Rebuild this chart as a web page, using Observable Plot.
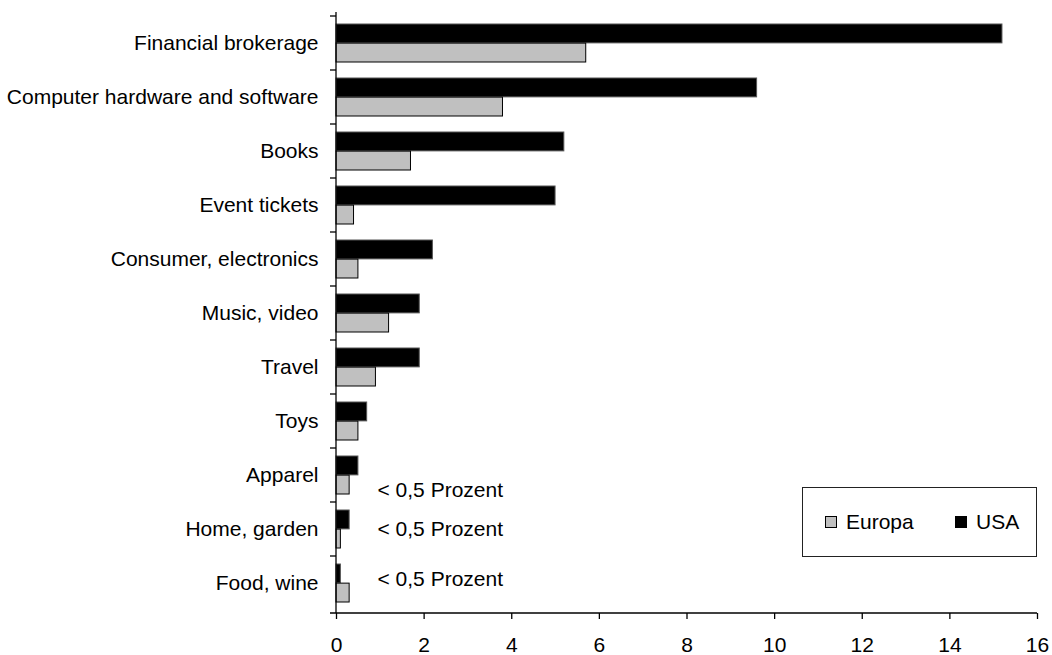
<!DOCTYPE html>
<html>
<head>
<meta charset="utf-8">
<script src="https://cdn.jsdelivr.net/npm/d3@7"></script>
<script src="https://cdn.jsdelivr.net/npm/@observablehq/plot@0.6"></script>
<style>
  html, body { margin: 0; padding: 0; background: #fff; }
  #wrap { position: relative; width: 1052px; height: 655px; font-family: "Liberation Sans", Arial, sans-serif; }
  #legend { position: absolute; left: 802px; top: 487px; width: 235px; height: 70px; border: 1.5px solid #222; box-sizing: border-box; background: #fff; font-size: 21px; color: #000; }
  .item { position: absolute; top: 22px; display: flex; align-items: center; }
  .sw { width: 10px; height: 10px; border: 1px solid #000; margin-right: 9px; }
</style>
</head>
<body>
<div id="wrap"></div>
<script>
// ---- data ----
const categories = ["Financial brokerage", "Computer hardware and software", "Books", "Event tickets",
  "Consumer, electronics", "Music, video", "Travel", "Toys", "Apparel", "Home, garden", "Food, wine"];
const usa    = [15.2, 9.6, 5.2, 5.0, 2.2, 1.9, 1.9, 0.7, 0.5, 0.3, 0.1];
const europa = [5.7, 3.8, 1.7, 0.4, 0.5, 1.2, 0.9, 0.5, 0.3, 0.1, 0.3];
const seriesNames = ["Europa", "USA"];
const seriesColors = ["#c0c0c0", "#000000"];
const xTicks = [0, 2, 4, 6, 8, 10, 12, 14, 16];
const noteCategories = ["Apparel", "Home, garden", "Food, wine"];
const noteText = "< 0,5 Prozent";

// ---- layout ----
const W = 1052, H = 655, mTop = 12, mBottom = 42, mLeft = 336, mRight = 15;
const padInner = 0.3, padOuter = 0.15;
const step = (H - mTop - mBottom) / (categories.length - padInner + 2 * padOuter);
const bw = step * (1 - padInner);
const half = bw / 2;

const rows = categories.map((c, i) => ({cat: c, usa: usa[i], europa: europa[i]}));
const notes = noteCategories.map(c => ({cat: c, text: noteText}));
const noteDy = [15, 0, -4];

function axesLines(index, scales, values, dimensions) {
  const x = scales.x, y = scales.y;
  const top = dimensions.marginTop, bottom = dimensions.height - dimensions.marginBottom;
  const s = y(categories[1]) - y(categories[0]);
  const b = typeof y.bandwidth === "function" ? y.bandwidth() : (y.bandwidth ?? s * (1 - padInner));
  const g = d3.create("svg:g").attr("stroke", "#000").attr("stroke-width", 1.3).attr("fill", "none");
  const x0 = x(0);
  g.append("line").attr("x1", x0).attr("x2", x0).attr("y1", top).attr("y2", bottom);
  g.append("line").attr("x1", x0 - 6).attr("x2", x(xTicks[xTicks.length - 1])).attr("y1", bottom).attr("y2", bottom);
  categories.forEach(c => {
    const yb = y(c) - (s - b) / 2;
    g.append("line").attr("x1", x0 - 6).attr("x2", x0).attr("y1", yb).attr("y2", yb);
  });
  return g.node();
}

const chart = Plot.plot({
  width: W, height: H,
  marginTop: mTop, marginBottom: mBottom, marginLeft: mLeft, marginRight: mRight,
  style: {fontFamily: '"Liberation Sans", Arial, sans-serif', fontSize: "21px", color: "#000", background: "#fff"},
  x: {domain: [0, 16]},
  y: {domain: categories, paddingInner: padInner, paddingOuter: padOuter},
  marks: [
    Plot.barX(rows, {x: "usa", y: "cat", fill: seriesColors[1], stroke: "#555", strokeWidth: 1, insetBottom: half}),
    Plot.barX(rows, {x: "europa", y: "cat", fill: seriesColors[0], stroke: "#000", strokeWidth: 1, insetTop: half}),
    ...notes.map((n, i) => Plot.text([n], {x: 0, y: "cat", text: "text", textAnchor: "start", dx: 41, dy: noteDy[i], fill: "#000"})),
    Plot.axisX({ticks: xTicks, tickSize: 6, tickPadding: 18, tickFormat: d => String(d), label: null, stroke: "#000", strokeWidth: 1.3, fill: "#000"}),
    Plot.axisY({tickSize: 0, tickPadding: 18, label: null, fill: "#000"}),
    axesLines
  ]
});

const wrap = document.getElementById("wrap");
wrap.appendChild(chart);

// legend
const legend = document.createElement("div");
legend.id = "legend";
const lx = [22, 152];
seriesNames.forEach((name, i) => {
  const it = document.createElement("div");
  it.className = "item";
  it.style.left = lx[i] + "px";
  const sw = document.createElement("span");
  sw.className = "sw";
  sw.style.background = seriesColors[i];
  const tx = document.createElement("span");
  tx.textContent = name;
  it.appendChild(sw); it.appendChild(tx);
  legend.appendChild(it);
});
wrap.appendChild(legend);
</script>
</body>
</html>
